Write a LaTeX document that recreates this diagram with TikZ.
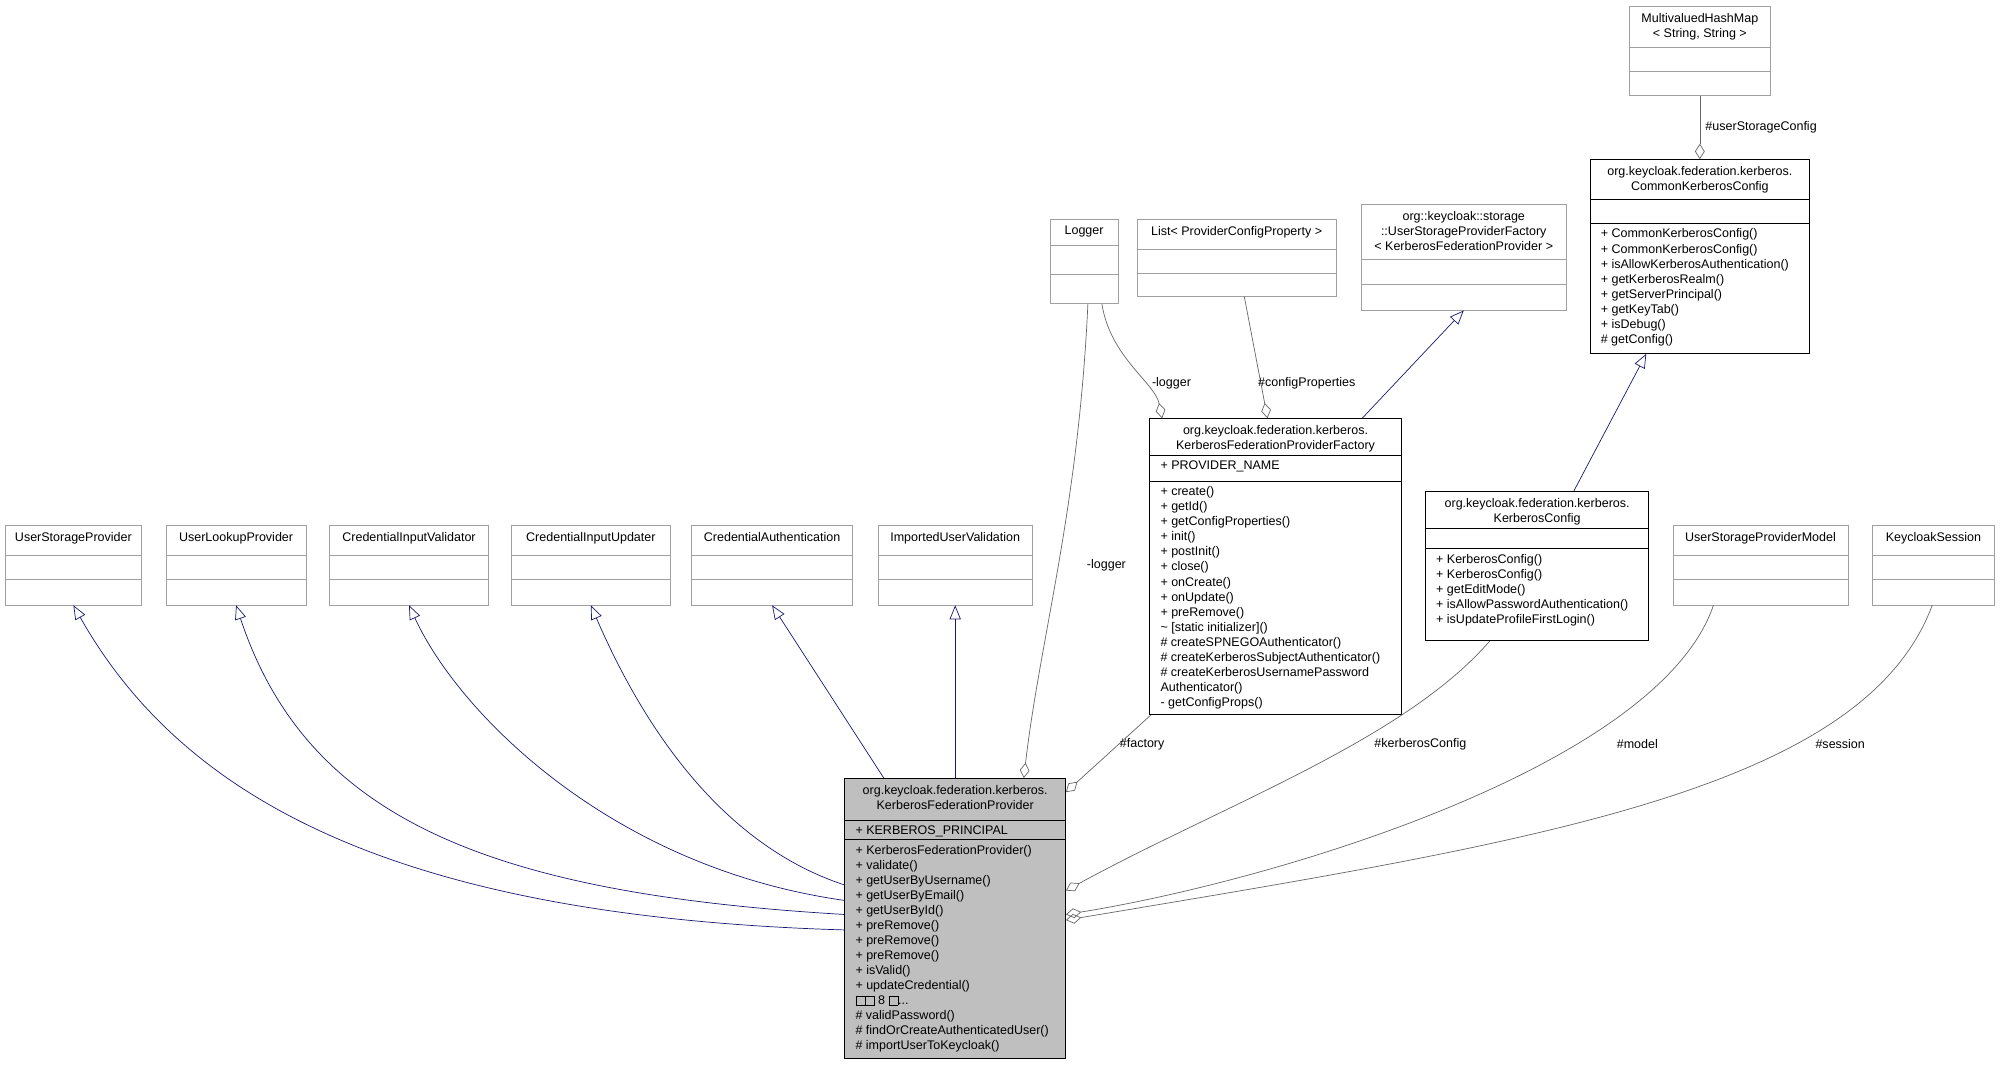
\documentclass[tikz,border=0pt]{standalone}
\usepackage{fontspec}
\setmainfont{Liberation Sans}
\usetikzlibrary{arrows.meta,calc,fit,positioning}
\definecolor{edgeblue}{RGB}{25,25,112}
\definecolor{mainfill}{RGB}{191,191,191}
\definecolor{extgray}{RGB}{160,160,160}
\newcommand{\sqg}{{\setlength\fboxsep{0pt}\setlength\fboxrule{0.4pt}\fbox{\rule{0pt}{6pt}\hspace{6pt}}}}
% class box: name, x1, y1, x2, y2, title bottom, attr bottom, title, style
\newcommand{\umlclass}[9]{%
  \node[fit={(#2,#3)(#4,#5)}, inner sep=0pt, #9] (#1) {};
  \draw[#9] (#2,#6) -- (#4,#6) (#2,#7) -- (#4,#7);
  \node[txt, align=center, anchor=north] (#1-t) at ($(#2,#3)!0.5!(#4,#3)+(0,4)$) {#8};
  \node[txt, align=left, anchor=north west] (#1-a) at (#2+7,#6+2.5) {\attrs};
  \node[txt, align=left, anchor=north west] (#1-m) at (#2+7,#7+3) {\meths};
}
\tikzset{
  txt/.style={font=\fontsize{8.9}{10.7}\selectfont, inner sep=1pt},
  lbl/.style={font=\fontsize{8.9}{10.7}\selectfont, inner sep=1pt},
  main/.style={draw=black, fill=mainfill},
  known/.style={draw=black},
  ext/.style={draw=extgray},
  inherit/.style={draw=edgeblue, -{Triangle[open,length=10pt,width=8pt]}},
  uses/.style={draw=black!60, -{Diamond[open,length=11pt,width=7pt]}},
}
\begin{document}
\begin{tikzpicture}[x=0.0319cm, y=-0.0319cm, line width=0.5pt]
\useasboundingbox (0,0) rectangle (1568,835);

% main class
\def\attrs{+ KERBEROS\_PRINCIPAL}
\def\meths{+ KerberosFederationProvider()\\+ validate()\\+ getUserByUsername()\\+ getUserByEmail()\\+ getUserById()\\+ preRemove()\\+ preRemove()\\+ preRemove()\\+ isValid()\\+ updateCredential()\\\sqg\sqg\ 8 \sqg...\\\# validPassword()\\\# findOrCreateAuthenticatedUser()\\\# importUserToKeycloak()}
\umlclass{kfp}{662}{610}{835}{829}{643}{658}{org.keycloak.federation.kerberos.\\KerberosFederationProvider}{main}

% factory
\def\attrs{+ PROVIDER\_NAME}
\def\meths{+ create()\\+ getId()\\+ getConfigProperties()\\+ init()\\+ postInit()\\+ close()\\+ onCreate()\\+ onUpdate()\\+ preRemove()\\\textasciitilde\ [static initializer]()\\\# createSPNEGOAuthenticator()\\\# createKerberosSubjectAuthenticator()\\\# createKerberosUsernamePassword\\Authenticator()\\- getConfigProps()}
\umlclass{fac}{901}{328}{1098}{560}{357}{377}{org.keycloak.federation.kerberos.\\KerberosFederationProviderFactory}{known}

% kerberos config
\def\attrs{}
\def\meths{+ KerberosConfig()\\+ KerberosConfig()\\+ getEditMode()\\+ isAllowPasswordAuthentication()\\+ isUpdateProfileFirstLogin()}
\umlclass{kcfg}{1117}{385}{1292}{502}{414}{430}{org.keycloak.federation.kerberos.\\KerberosConfig}{known}

% common kerberos config
\def\meths{+ CommonKerberosConfig()\\+ CommonKerberosConfig()\\+ isAllowKerberosAuthentication()\\+ getKerberosRealm()\\+ getServerPrincipal()\\+ getKeyTab()\\+ isDebug()\\\# getConfig()}
\umlclass{ccfg}{1246}{125}{1418}{277}{156}{175}{org.keycloak.federation.kerberos.\\CommonKerberosConfig}{known}

% external classes
\def\meths{}
\umlclass{mvh}{1277}{5}{1387}{75}{37}{56}{MultivaluedHashMap\\< String, String >}{ext}
\umlclass{log}{823}{172}{876}{238}{192}{215}{Logger}{ext}
\umlclass{lst}{891}{172}{1047}{232}{195}{214}{List< ProviderConfigProperty >}{ext}
\umlclass{uspf}{1067}{160}{1227}{243}{203}{223}{org::keycloak::storage\\::UserStorageProviderFactory\\< KerberosFederationProvider >}{ext}
\umlclass{usp}{4}{412}{111}{474}{435}{454}{UserStorageProvider}{ext}
\umlclass{ulp}{130}{412}{240}{474}{435}{454}{UserLookupProvider}{ext}
\umlclass{civ}{258}{412}{383}{474}{435}{454}{CredentialInputValidator}{ext}
\umlclass{ciu}{401}{412}{525}{474}{435}{454}{CredentialInputUpdater}{ext}
\umlclass{cau}{542}{412}{668}{474}{435}{454}{CredentialAuthentication}{ext}
\umlclass{iuv}{688}{412}{809}{474}{435}{454}{ImportedUserValidation}{ext}
\umlclass{uspm}{1311}{412}{1448}{474}{435}{454}{UserStorageProviderModel}{ext}
\umlclass{kss}{1467}{412}{1563}{474}{435}{454}{KeycloakSession}{ext}

% inheritance
\draw[inherit] ([yshift=-108pt]kfp.north west) .. controls (300,718) and (140,620) .. (usp.south);
\draw[inherit] ([yshift=-97pt]kfp.north west) .. controls (380,700) and (240,640) .. (ulp.south);
\draw[inherit] ([yshift=-87pt]kfp.north west) .. controls (480,680) and (360,560) .. (civ.south);
\draw[inherit] ([yshift=-76pt]kfp.north west) .. controls (560,660) and (500,560) .. (ciu.south);
\draw[inherit] ([xshift=28pt]kfp.north west) -- (cau.south);
\draw[inherit] (kfp.north -| iuv.south) -- (iuv.south);
\draw[inherit] ([xshift=-28pt]fac.north east) -- (uspf.south);
\draw[inherit] ($(kcfg.north east)+(-59,0)$) -- ($(ccfg.south)+(-42,0)$);

% associations
\draw[uses] ([xshift=27pt]log.south west) .. controls (845,400) and (815,500) .. ([xshift=-30pt]kfp.north east);
\node[lbl] (l1) at (867,443) {-logger};
\draw[uses] ([xshift=37pt]log.south west) .. controls (870,280) and (905,300) .. ([xshift=9pt]fac.north west);
\node[lbl] (l2) at (918,300) {-logger};
\draw[uses] ($(lst.south)+(6,0)$) -- ([xshift=84pt]fac.north west);
\node[lbl] (l3) at (1024,300) {\#configProperties};
\draw[uses] (mvh.south) -- (mvh.south |- ccfg.north);
\node[lbl] (l4) at (1380,100) {\#userStorageConfig};
\draw[uses] ([xshift=1pt]fac.south west) -- ([yshift=-10pt]kfp.north east);
\node[lbl] (l5) at (895,583) {\#factory};
\draw[uses] ([xshift=46pt]kcfg.south west) .. controls (1100,580) and (960,630) .. ([yshift=-80pt]kfp.north east);
\node[lbl] (l6) at (1113,583) {\#kerberosConfig};
\draw[uses] ([xshift=29pt]uspm.south west) .. controls (1300,600) and (1000,690) .. ([yshift=-97pt]kfp.north east);
\node[lbl] (l7) at (1283,583) {\#model};
\draw[uses] ([xshift=43pt]kss.south west) .. controls (1460,620) and (1200,660) .. ([yshift=-101pt]kfp.north east);
\node[lbl] (l8) at (1442,583) {\#session};
\end{tikzpicture}
\end{document}
